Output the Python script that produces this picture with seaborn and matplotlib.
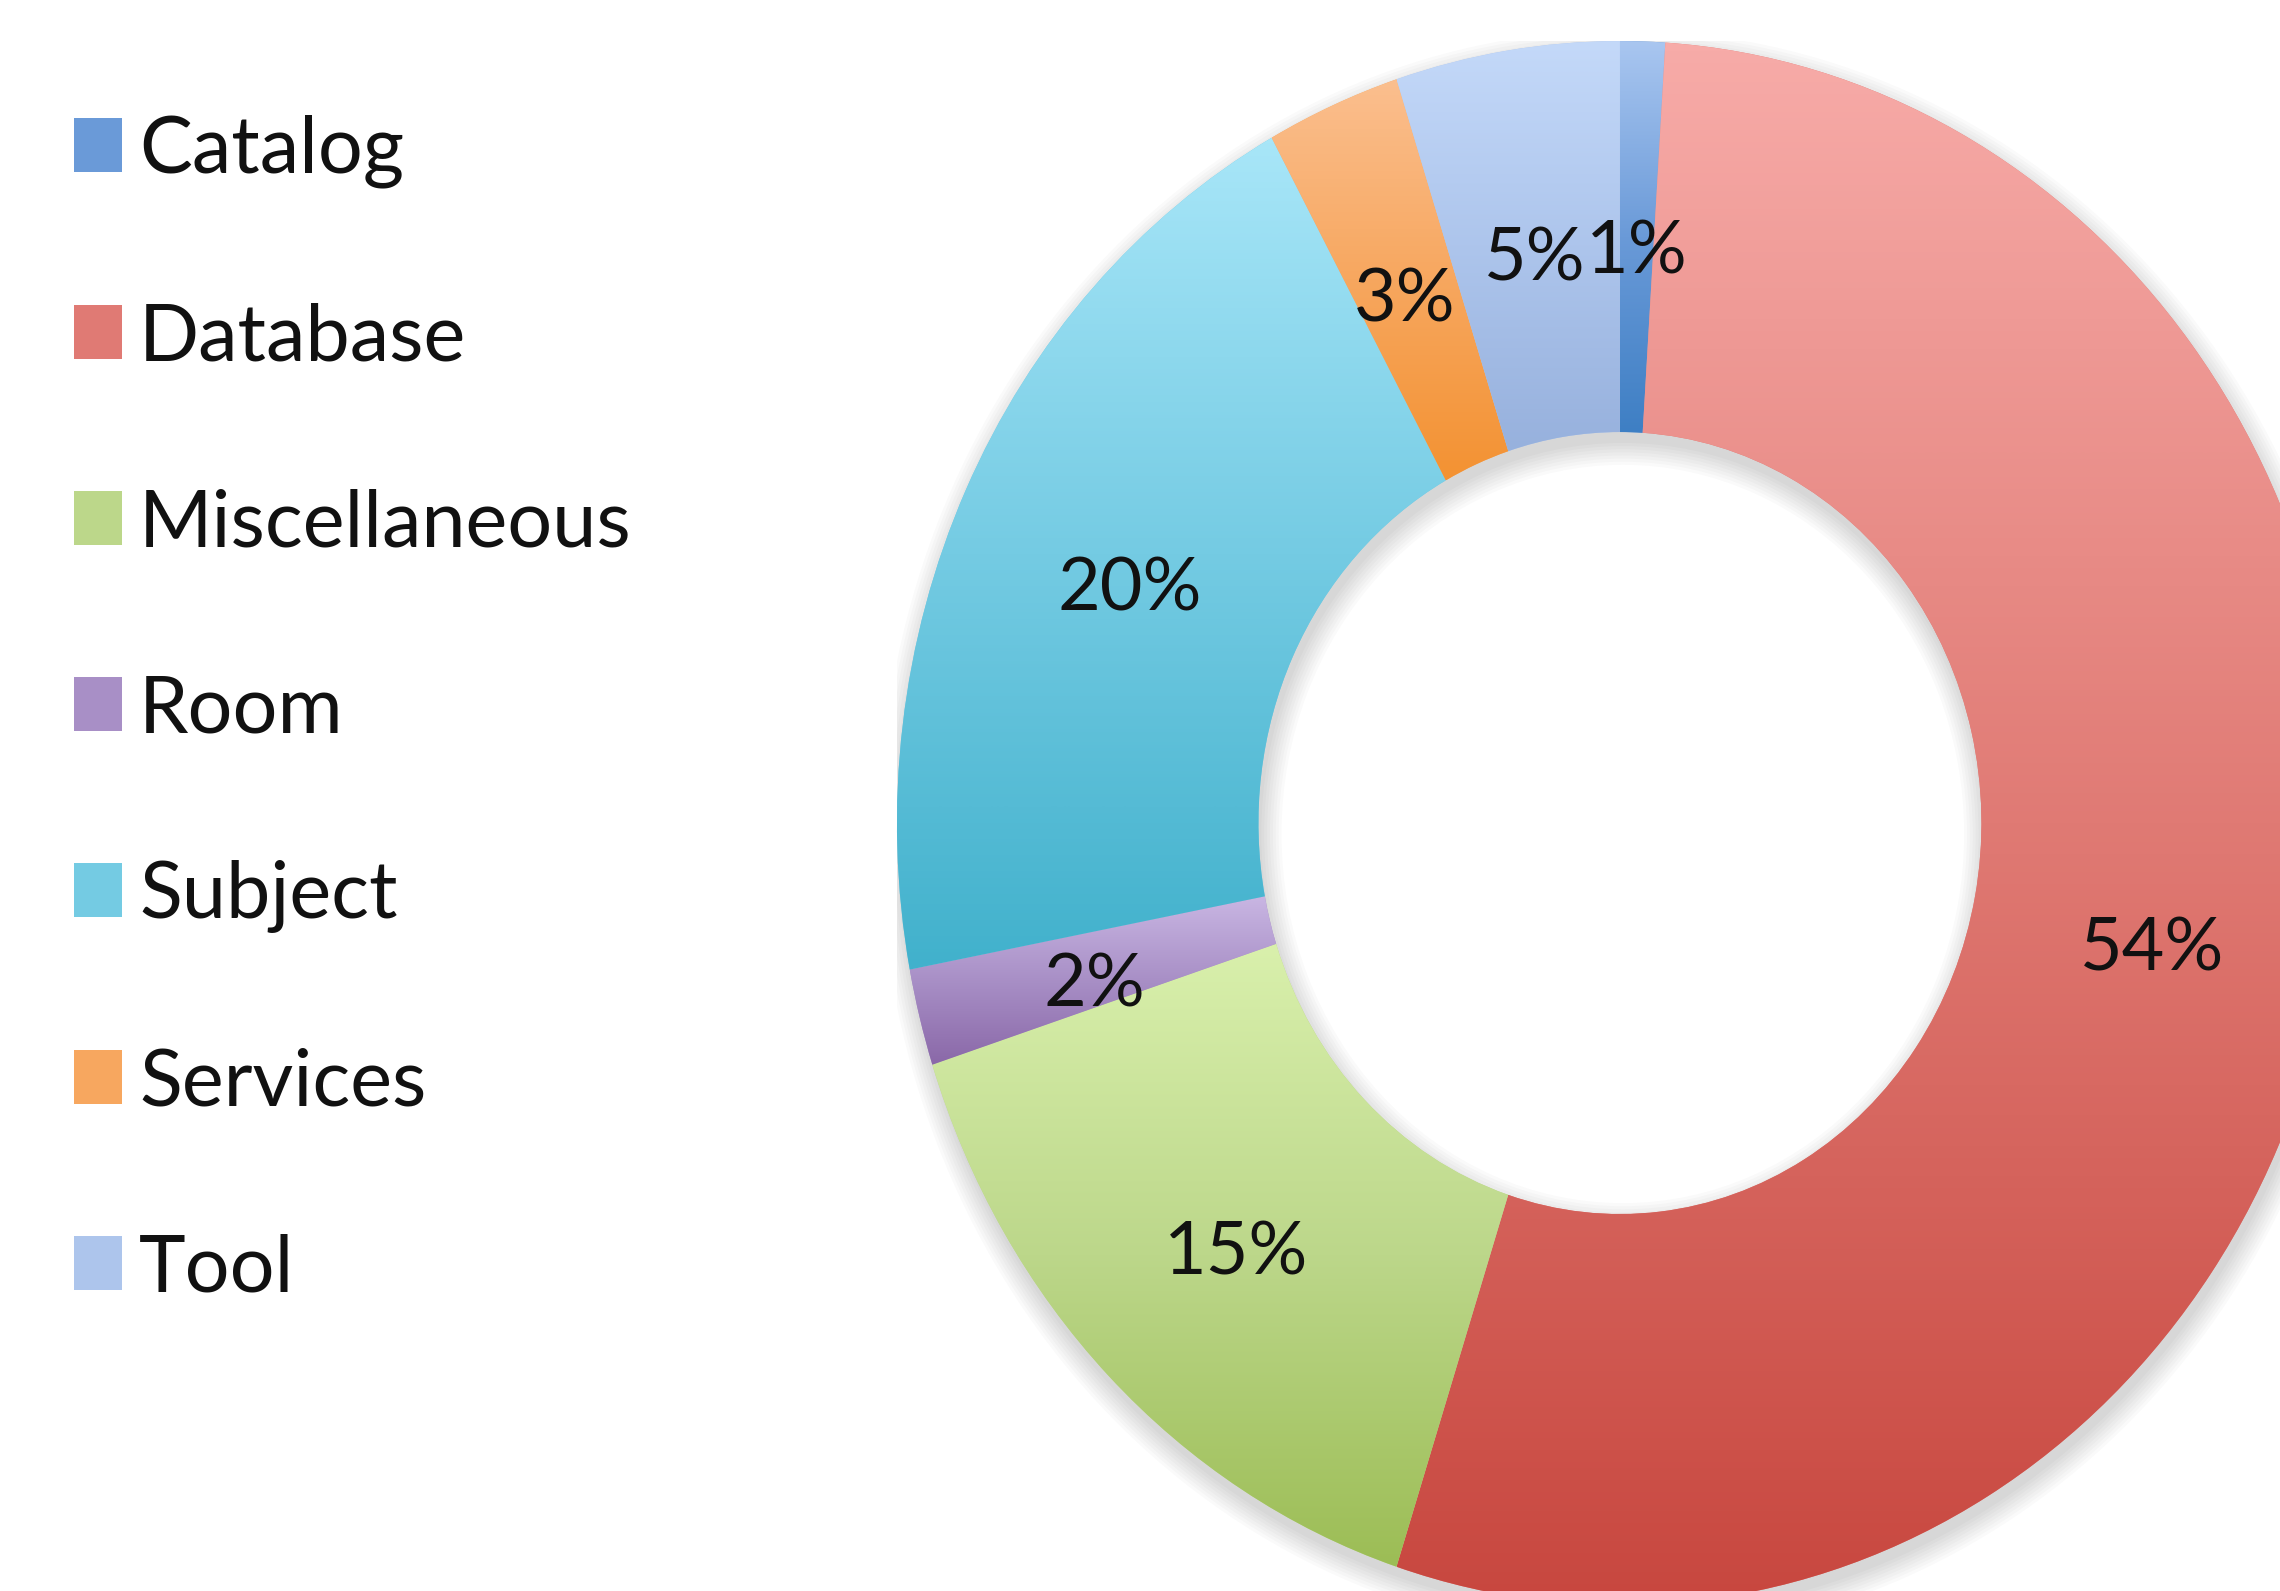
import numpy as np
import matplotlib
matplotlib.use("Agg")
import matplotlib.pyplot as plt
from matplotlib.colors import LinearSegmentedColormap
from matplotlib.patches import Wedge
from matplotlib.transforms import offset_copy
import seaborn as sns

# data (clockwise from 12 o'clock)
categories = ["Catalog", "Database", "Miscellaneous", "Room", "Subject", "Services", "Tool"]
shares = [1, 54, 15, 2, 20, 3, 5]

# gradient colours per slice, light at the top, darker at the bottom
top_colors = ["#a9c6f0", "#f7aba8", "#d9f0ac", "#c9b6e3", "#a8e6f8", "#fbbf8f", "#c4d9f9"]
mid_colors = ["#6a9ad8", "#e07a74", "#bcd78a", "#a88fc6", "#74cbe3", "#f7a75f", "#adc5ec"]
bottom_colors = ["#3e7fc4", "#c8473f", "#9cbd55", "#8a68a8", "#41b1cc", "#f39232", "#97b1dd"]

sns.set_style("white")
plt.rcParams["font.family"] = ["Lato", "DejaVu Sans"]

fig = plt.figure(figsize=(22.8, 15.91), dpi=100)
ax = fig.add_axes([0.3934, -0.0088, 0.6342, 0.983])

# soft drop shadow under the ring
for i in range(8):
    d = 0.004 * i
    sh = Wedge((0.004, -0.014), 1.0 + d, 0, 360, width=0.5 + 2 * d,
               facecolor="#000000", edgecolor="none", alpha=0.018, zorder=0)
    ax.add_patch(sh)

wedges, texts, autotexts = ax.pie(
    shares,
    startangle=90,
    counterclock=False,
    colors=mid_colors,
    autopct="%1.0f%%",
    pctdistance=0.75,
    radius=1.0,
    wedgeprops=dict(width=0.5, linewidth=0),
    textprops=dict(fontsize=53, color="#111111"),
)

# vertical gradient inside each slice
for w, c_top, c_mid, c_bot in zip(wedges, top_colors, mid_colors, bottom_colors):
    w.set_zorder(1)
    ext = w.get_path().get_extents()
    cmap = LinearSegmentedColormap.from_list("g", [c_top, c_mid, c_bot])
    grad = np.linspace(0, 1, 256).reshape(-1, 1)
    im = ax.imshow(grad, cmap=cmap, extent=[ext.x0, ext.x1, ext.y0, ext.y1],
                   origin="upper", aspect="auto", interpolation="bicubic", zorder=2)
    im.set_clip_path(w)

# labels sit a little lower in the original
for t in autotexts:
    t.set_zorder(5)
    t.set_transform(offset_copy(ax.transData, fig=fig, x=0, y=-12, units="points"))

ax.set_aspect("auto")
ax.set_xlim(-1, 1)
ax.set_ylim(-1, 1)
ax.axis("off")

leg = fig.legend(wedges, categories, loc="upper left", bbox_to_anchor=(0.0325, 0.928),
                 frameon=False, fontsize=57, borderpad=0, borderaxespad=0,
                 handlelength=0.6, handleheight=0.67, handletextpad=0.22,
                 labelspacing=1.44)
for t in leg.get_texts():
    t.set_color("#111111")

fig.savefig("out.png", dpi=100, facecolor="white")
